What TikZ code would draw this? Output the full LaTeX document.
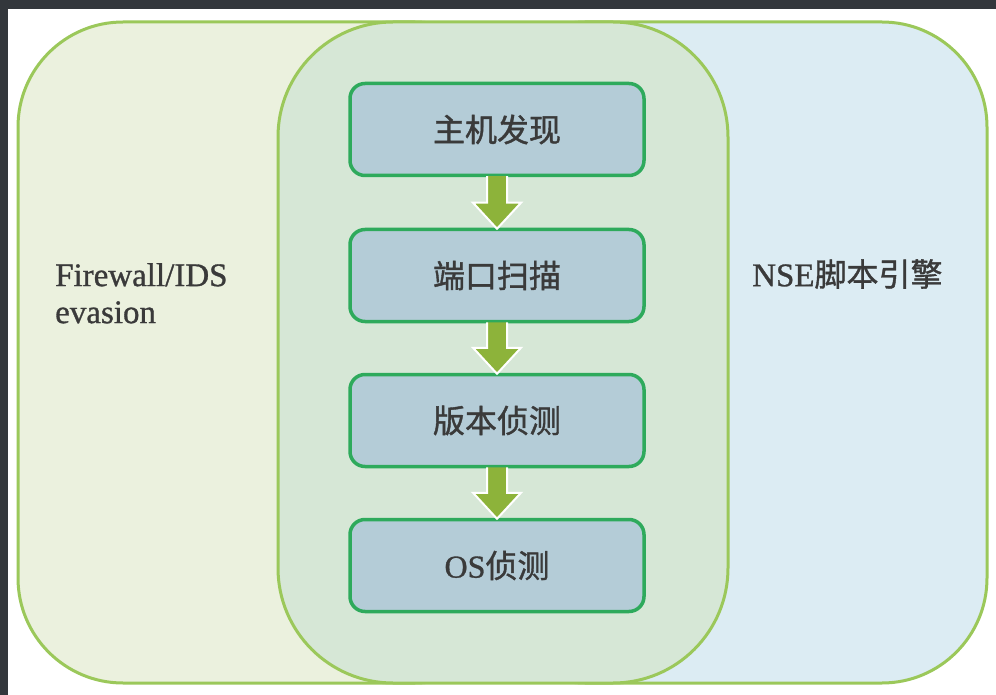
\documentclass[tikz,border=0pt]{standalone}
\usepackage{fontspec}
\setmainfont[FakeBold=0.9]{Liberation Serif}
\newfontfamily\cjk[FakeBold=1.2]{Noto Sans CJK SC}
\usetikzlibrary{calc}
\definecolor{frame}{HTML}{33373C}
\definecolor{leftfill}{HTML}{EBF1DE}
\definecolor{rightfill}{HTML}{DCECF3}
\definecolor{midfill}{HTML}{D6E7D6}
\definecolor{outerline}{HTML}{9BC85A}
\definecolor{boxfill}{HTML}{B4CCD7}
\definecolor{boxline}{HTML}{2EAA5C}
\definecolor{arrowfill}{HTML}{8DB33A}
\definecolor{txt}{HTML}{3A3A3A}
\tikzset{
  region/.style={draw=outerline, line width=3pt},
  stepbox/.style={draw=boxline, fill=boxfill, line width=3.5pt, rounded corners=15pt,
    minimum width=294pt, minimum height=92pt, inner sep=0pt, text=txt,
    font=\fontsize{32}{36}\selectfont\cjk},
  sidetext/.style={text=txt, inner sep=0pt},
  flowarrow/.style={draw=white, line width=2pt, fill=arrowfill, line join=miter}
}
\begin{document}
\begin{tikzpicture}[x=1pt, y=-1pt]
\useasboundingbox (0,0) rectangle (996,695);
\fill[white] (0,0) rectangle (996,695);
\fill[frame] (0,0) rectangle (996,9);
\fill[frame] (0,0) rectangle (8,695);
% outer regions
\path[region, fill=leftfill, rounded corners=105pt] (18,22) rectangle (520,683);
\path[region, fill=rightfill, rounded corners=105pt] (480,22) rectangle (987,683);
\path[region, fill=midfill, rounded corners=115pt] (278,22) rectangle (728,683);
% side texts
\node[sidetext, anchor=north west, align=left, font=\fontsize{33}{37}\selectfont] (fw) at (55,263) {Firewall/IDS\\evasion};
\node[sidetext, anchor=west, font=\fontsize{32}{36}\selectfont] (nse) at (752,274) {\fontsize{33}{36}\selectfont NSE\cjk\fontsize{32}{36}\selectfont 脚本引擎};
% steps
\node[stepbox] (b1) at (497,129.5) {主机发现};
\node[stepbox] (b2) at (497,275.5) {端口扫描};
\node[stepbox] (b3) at (497,420.5) {版本侦测};
\node[stepbox] (b4) at (497,565.5) {{\rmfamily OS}侦测};
% arrows
\foreach \a/\b in {b1/b2, b2/b3, b3/b4}{
  \path[flowarrow] ($(\a.south)+(-10,-1)$) -- ($(\b.north)+(-10,-25)$) -- ($(\b.north)+(-24,-25)$)
    -- ($(\b.north)+(0,1)$) -- ($(\b.north)+(24,-25)$) -- ($(\b.north)+(10,-25)$) -- ($(\a.south)+(10,-1)$);
}
\end{tikzpicture}
\end{document}
